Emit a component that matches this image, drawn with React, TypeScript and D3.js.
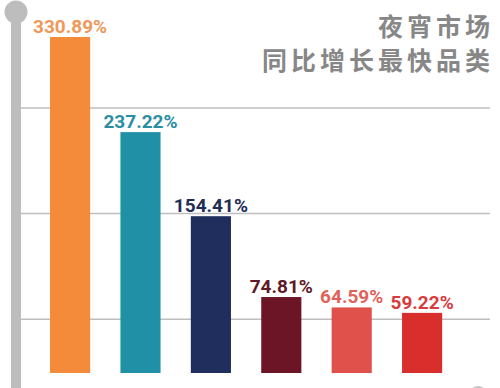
import React from "react";
import { scaleBand, scaleLinear } from "d3";

const categories = ["c1", "c2", "c3", "c4", "c5", "c6"];
const values = [330.89, 237.22, 154.41, 74.81, 64.59, 59.22];
const barColors = ["#F38B3A", "#2090A6", "#1F2E5C", "#6C1526", "#DF514A", "#D82F2C"];
const labelColors = ["#F0985A", "#2A8EA2", "#1F2D58", "#5F1A27", "#E0625A", "#D93A3E"];
const gridValues = [53, 157, 261];
const titleLines = ["夜宵市场", "同比增长最快品类"];

const W = 500;
const H = 388;

export default function App() {
  const x = scaleBand<string>()
    .domain(categories)
    .range([34.9, 457.3])
    .paddingInner(0.43)
    .paddingOuter(0.215);

  const y = scaleLinear().domain([0, 330.89]).range([373, 37]);

  return (
    <svg
      width={W}
      height={H}
      style={{ position: "absolute", left: 0, top: 0, background: "#fff" }}
    >
      {/* grid */}
      {gridValues.map((g) => (
        <line
          key={g}
          x1={21}
          x2={490}
          y1={y(g)}
          y2={y(g)}
          stroke="#BEBEBE"
          strokeWidth={1.5}
        />
      ))}

      {/* pole */}
      <rect x={11} y={12} width={10} height={H} fill="#BDBDBD" />
      <circle cx={16} cy={12} r={11.5} fill="#BDBDBD" />
      <circle cx={478} cy={395} r={9} fill="#C8C8C8" />

      {/* bars */}
      {values.map((v, i) => (
        <rect
          key={categories[i]}
          x={x(categories[i])}
          y={y(v)}
          width={x.bandwidth()}
          height={y(0) - y(v)}
          fill={barColors[i]}
        />
      ))}

      {/* labels */}
      {values.map((v, i) => (
        <text
          key={"l" + categories[i]}
          x={(x(categories[i]) ?? 0) + x.bandwidth() / 2}
          y={y(v) - 4}
          textAnchor="middle"
          fontFamily="Roboto, Arial, sans-serif"
          fontWeight="bold"
          fontSize={19}
          fill={labelColors[i]}
        >
          {v.toFixed(2)}%
        </text>
      ))}

      {/* title */}
      {titleLines.map((t, i) => (
        <text
          key={t}
          x={494}
          y={36 + i * 34}
          textAnchor="end"
          fontFamily="'Noto Sans CJK SC', sans-serif"
          fontWeight="bold"
          fontSize={25}
          letterSpacing={4}
          fill="#878787"
        >
          {t}
        </text>
      ))}
    </svg>
  );
}
